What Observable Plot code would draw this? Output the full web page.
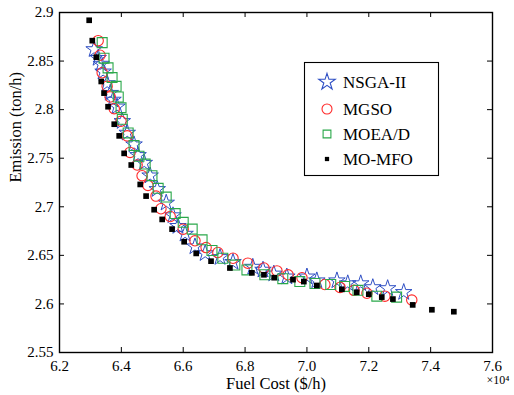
<!DOCTYPE html>
<html><head><meta charset="utf-8">
<script src="https://cdn.jsdelivr.net/npm/d3@7"></script>
<script src="https://cdn.jsdelivr.net/npm/@observablehq/plot@0.6"></script>
<style>
body{margin:0;background:#fff;}
#chart{position:relative;width:514px;height:395px;background:#fff;}
</style>
</head><body><div id="chart"></div>
<script>
// Fuel cost in units of 10^4 $/h, emission in ton/h
const nsgaFuel = [6.312,6.325,6.335,6.341,6.354,6.364,6.373,6.386,6.403,6.419,6.441,6.454,6.474,6.493,6.516,6.545,6.567,6.583,6.606,6.638,6.671,6.719,6.761,6.825,6.858,6.893,6.935,7.000,7.032,7.097,7.132,7.174,7.213,7.261,7.313];
const nsgaEmis = [2.862,2.853,2.847,2.839,2.827,2.817,2.810,2.803,2.788,2.776,2.764,2.753,2.745,2.732,2.718,2.704,2.691,2.680,2.672,2.659,2.652,2.648,2.643,2.638,2.635,2.631,2.628,2.628,2.624,2.624,2.621,2.621,2.617,2.616,2.612];
const mgsoFuel = [6.325,6.331,6.338,6.354,6.364,6.377,6.399,6.419,6.428,6.451,6.467,6.486,6.512,6.528,6.558,6.600,6.638,6.674,6.712,6.761,6.809,6.861,6.903,6.939,6.984,7.058,7.107,7.152,7.194,7.252,7.339];
const mgsoEmis = [2.871,2.856,2.838,2.824,2.813,2.801,2.788,2.773,2.756,2.743,2.732,2.722,2.711,2.698,2.690,2.677,2.665,2.658,2.653,2.647,2.642,2.637,2.634,2.630,2.627,2.620,2.617,2.614,2.611,2.608,2.604];
const moeadFuel = [6.338,6.344,6.357,6.370,6.383,6.390,6.399,6.403,6.422,6.441,6.457,6.477,6.499,6.519,6.545,6.574,6.600,6.629,6.661,6.693,6.728,6.767,6.806,6.864,6.922,6.977,7.026,7.077,7.122,7.165,7.226,7.290];
const moeadEmis = [2.869,2.853,2.843,2.833,2.824,2.813,2.802,2.790,2.776,2.763,2.752,2.744,2.732,2.719,2.710,2.693,2.684,2.677,2.666,2.655,2.647,2.640,2.635,2.630,2.626,2.623,2.621,2.620,2.618,2.614,2.608,2.607];
const momfoFuel = [6.296,6.306,6.319,6.335,6.344,6.357,6.377,6.393,6.409,6.432,6.461,6.480,6.506,6.532,6.564,6.603,6.642,6.690,6.751,6.822,6.861,6.894,6.955,6.990,7.032,7.113,7.161,7.200,7.242,7.278,7.342,7.404,7.475];
const momfoEmis = [2.892,2.871,2.854,2.829,2.817,2.803,2.785,2.773,2.755,2.743,2.723,2.711,2.697,2.687,2.677,2.664,2.652,2.644,2.637,2.632,2.630,2.627,2.625,2.623,2.619,2.615,2.612,2.610,2.607,2.605,2.599,2.594,2.592];

const seriesNames = ["NSGA-II","MGSO","MOEA/D","MO-MFO"];
const xTicks = [6.2,6.4,6.6,6.8,7.0,7.2,7.4,7.6];
const yTicks = [2.55,2.6,2.65,2.7,2.75,2.8,2.85,2.9];
const xLabel = "Fuel Cost ($/h)";
const yLabel = "Emission (ton/h)";
const xExponent = "×10⁴";

const toRows = (name, fx, ey) => fx.map((f,i)=>({series:name, fuel:f, emis:ey[i]}));
const nsga = toRows(seriesNames[0], nsgaFuel, nsgaEmis);
const mgso = toRows(seriesNames[1], mgsoFuel, mgsoEmis);
const moead = toRows(seriesNames[2], moeadFuel, moeadEmis);
const momfo = toRows(seriesNames[3], momfoFuel, momfoEmis);

const BLUE="#2f4fc4", RED="#ff2a2a", GREEN="#2aa84a", BLACK="#000";
const FONT = "Liberation Serif";
const W=514, H=395, ML=59, MR=22, MT=12, MB=43;
const fw = W-ML-MR, fh = H-MT-MB, tk=5;

const plot = Plot.plot({
  width:W, height:H, marginLeft:ML, marginRight:MR, marginTop:MT, marginBottom:MB,
  style:{fontFamily:FONT, fontSize:"15px", background:"#fff", color:"#000", overflow:"visible"},
  x:{domain:[6.2,7.6]},
  y:{domain:[2.55,2.9]},
  marks:[
    Plot.dot(nsga,{x:"fuel",y:"emis",symbol:"star",r:5.2,fill:"none",stroke:BLUE,strokeWidth:1}),
    Plot.dot(mgso,{x:"fuel",y:"emis",symbol:"circle",r:5.2,fill:"none",stroke:RED,strokeWidth:1.1}),
    Plot.dot(moead,{x:"fuel",y:"emis",symbol:"square",r:5.6,fill:"none",stroke:GREEN,strokeWidth:1.1}),
    Plot.dot(momfo,{x:"fuel",y:"emis",symbol:"square",r:3.2,fill:BLACK,stroke:"none"}),
    Plot.tickX(xTicks,{x:d=>d,insetTop:fh-tk,stroke:"#000"}),
    Plot.tickX(xTicks,{x:d=>d,insetBottom:fh-tk,stroke:"#000"}),
    Plot.tickY(yTicks,{y:d=>d,insetRight:fw-tk,stroke:"#000"}),
    Plot.tickY(yTicks,{y:d=>d,insetLeft:fw-tk,stroke:"#000"}),
    Plot.frame({stroke:"#000",strokeWidth:1.4}),
    Plot.axisX(xTicks,{anchor:"bottom",tickSize:0,tickPadding:8,tickFormat:d=>d.toFixed(1),label:null}),
    Plot.axisY(yTicks,{anchor:"left",tickSize:0,tickPadding:6,tickFormat:d=>String(+d.toFixed(2)),label:null}),
    Plot.text([xLabel],{frameAnchor:"bottom",dy:36,text:d=>d,fontSize:16.5}),
    Plot.text([yLabel],{frameAnchor:"left",dx:-44,rotate:-90,text:d=>d,fontSize:16.5}),
    Plot.text([xExponent],{frameAnchor:"bottom-right",dx:-6,dy:31,textAnchor:"start",text:d=>d,fontSize:12})
  ]
});
document.getElementById("chart").appendChild(plot);

// legend inside the plot area
const svg = d3.select(plot);
const lg = svg.append("g").attr("font-size",17).attr("text-anchor","start");
lg.append("rect").attr("x",304.5).attr("y",62.5).attr("width",134).attr("height",113).attr("fill","#fff").attr("stroke","#000").attr("stroke-width",1.1);
const legendItems = [
  {name:seriesNames[0], type:d3.symbolStar, size:Math.PI*5.2*5.2, fill:"none", stroke:BLUE},
  {name:seriesNames[1], type:d3.symbolCircle, size:Math.PI*5.0*5.0, fill:"none", stroke:RED},
  {name:seriesNames[2], type:d3.symbolSquare, size:Math.PI*4.4*4.4, fill:"none", stroke:GREEN},
  {name:seriesNames[3], type:d3.symbolSquare, size:Math.PI*2.4*2.4, fill:BLACK, stroke:"none"}
];
const rowY = [82,109,134,159];
legendItems.forEach((it,i)=>{
  lg.append("path").attr("d",d3.symbol(it.type,it.size)()).attr("transform",`translate(327,${rowY[i]})`)
    .attr("fill",it.fill).attr("stroke",it.stroke).attr("stroke-width",1.1);
  lg.append("text").attr("x",343).attr("y",rowY[i]).attr("dy","0.35em").attr("text-anchor","start").text(it.name);
});

// force the serif face on every text element
svg.style("font-family", FONT, "important");
svg.selectAll("g, text").attr("font-family", FONT).style("font-family", FONT, "important");
</script>
</body></html>
